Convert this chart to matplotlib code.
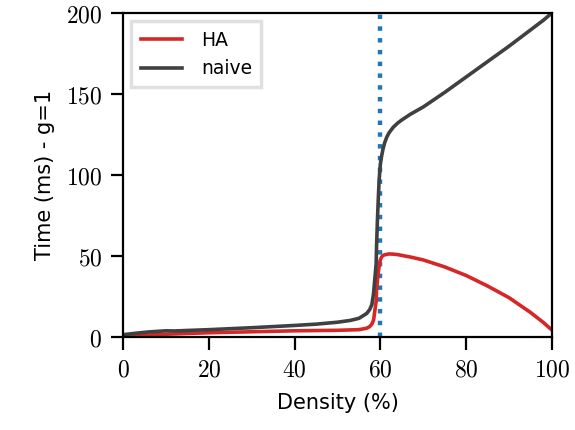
"""
runtime vs density, HA against naive
"""

import matplotlib
matplotlib.use('Agg')
import matplotlib.pyplot as plt
from matplotlib.ticker import FuncFormatter

density = [0, 3, 6, 10, 12, 20, 30, 40, 45, 50, 53, 55, 56.8, 57.5, 58, 58.4, 59, 59.1,
           59.3, 59.5, 59.7, 60, 60.3, 60.6, 61, 61.5, 62, 63, 64, 65, 67, 70, 75, 80,
           85, 90, 95, 98, 100]
naive = [1.5, 2.4, 3.2, 3.9, 3.8, 4.6, 5.8, 7.2, 8.0, 9.2, 10.3, 11.6, 14.6, 17, 20, 27,
         45, 56, 72, 85, 97, 107, 112, 116, 120, 123.5, 126, 129.5, 132, 134, 137.5,
         142, 151, 160.5, 170, 179.5, 189.5, 195.5, 200]

density_ha = [0, 5, 10, 20, 30, 40, 50, 55, 56.8, 57.5, 58, 58.4, 59, 59.1, 59.3, 59.5,
              59.9, 60.2, 60.5, 61, 62, 63, 64, 65, 67, 70, 75, 80, 85, 90, 95, 98, 100]
ha = [0.5, 1.2, 1.8, 2.7, 3.3, 3.9, 4.2, 4.6, 5.5, 6.5, 8, 10.5, 22, 29, 35, 40,
      47, 49, 50.2, 50.8, 51.3, 51.2, 50.9, 50.4, 49.4, 47.6, 43.3, 38, 31.5, 24.3, 15.2,
      9.0, 4.3]

threshold = 60

plt.rcParams['mathtext.fontset'] = 'cm'

fig = plt.figure(figsize=(5.75, 4.3), dpi=100)
ax = fig.add_axes([0.214, 0.216, 0.746, 0.754])

ax.plot(density_ha, ha, color='#d62728', lw=2.6, label='HA')
ax.plot(density, naive, color='#404040', lw=2.6, label='naive')
ax.axvline(threshold, color='#1f77b4', lw=3.2, ls=':', zorder=1)

ax.set_xlim(0, 100)
ax.set_ylim(0, 200)
ax.set_xticks([0, 20, 40, 60, 80, 100])
ax.set_yticks([0, 50, 100, 150, 200])
fmt = FuncFormatter(lambda v, p: '$%d$' % v)
ax.xaxis.set_major_formatter(fmt)
ax.yaxis.set_major_formatter(fmt)
ax.tick_params(direction='out', length=9, width=1.6, labelsize=17, pad=6)

for s in ax.spines.values():
    s.set_linewidth(1.6)

ax.set_xlabel('Density (%)', fontsize=15, labelpad=8)
ax.set_ylabel('Time (ms) - g=1', fontsize=15, labelpad=8)

leg = ax.legend(loc='upper left', fancybox=False, fontsize=13.5, handlelength=2.2,
                handletextpad=1.0, borderpad=0.5, borderaxespad=0.45)
leg.get_frame().set_edgecolor('#d9d9d9')
leg.get_frame().set_linewidth(2.5)

plt.savefig('out.png', dpi=100)
